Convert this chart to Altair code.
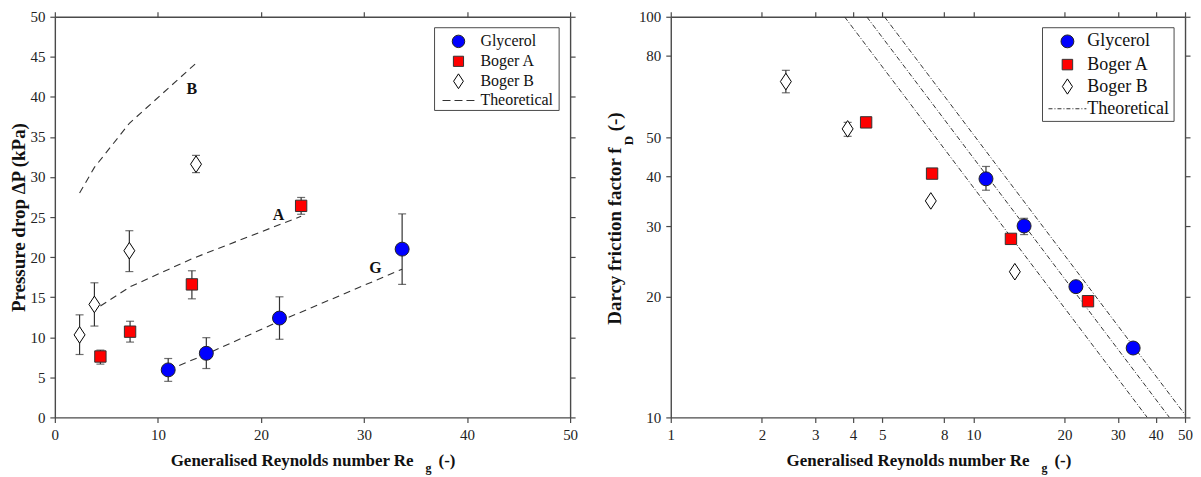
import altair as alt
import pandas as pd

# ---------------- data ----------------
# Generalised Reynolds number Re_g of each series
re_glycerol = [11.0, 14.7, 21.8, 33.7]
re_boger_a = [4.42, 7.3, 13.3, 23.9]
re_boger_b = [2.4, 3.84, 7.23, 13.7]

# Pressure drop (kPa) with error-bar limits
dp_glycerol = [5.93, 8.0, 12.4, 21.0]
dp_glycerol_lo = [4.5, 6.1, 9.75, 16.6]
dp_glycerol_hi = [7.35, 9.95, 15.05, 25.4]
dp_boger_a = [7.6, 10.7, 16.6, 26.4]
dp_boger_a_lo = [6.65, 9.4, 14.8, 25.35]
dp_boger_a_hi = [8.4, 12.0, 18.3, 27.45]
dp_boger_b = [10.3, 14.1, 20.8, 31.6]
dp_boger_b_lo = [7.85, 11.4, 18.2, 30.55]
dp_boger_b_hi = [12.8, 16.8, 23.3, 32.7]

# Theoretical pressure-drop curves (at each series' Re_g)
dp_theory_g = [5.9, 7.9, 12.0, 18.5]
dp_theory_a = [13.9, 16.3, 19.8, 25.1]
dp_theory_b = [28.0, 31.2, 36.7, 44.2]

# Curve labels
curve_label_text = ["B", "A", "G"]
curve_label_re = [13.3, 21.7, 31.1]
curve_label_dp = [41.0, 25.3, 18.6]

# Darcy friction factor f_D
f_glycerol = [39.4, 30.05, 21.2, 14.9]
f_boger_a = [54.5, 40.6, 27.9, 19.5]
f_boger_b = [68.9, 52.5, 34.7, 23.1]
f_err_re_glycerol = [11.0, 14.7]
f_glycerol_lo = [36.9, 28.6]
f_glycerol_hi = [42.3, 31.4]
f_err_re_boger_b = [2.4, 3.84]
f_boger_b_lo = [64.6, 50.3]
f_boger_b_hi = [73.5, 54.5]

# Theoretical friction-factor lines (start and end points)
f_theory_line = ["T1", "T2", "T3"]
f_theory_re_start = [3.75, 4.44, 5.08]
f_theory_f_start = [100.0, 100.0, 100.0]
f_theory_re_end = [37.5, 44.4, 50.0]
f_theory_f_end = [10.0, 10.0, 10.16]

legend_labels = ["Glycerol", "Boger A", "Boger B", "Theoretical"]

x_ticks_lin = [0, 10, 20, 30, 40, 50]
y_ticks_lin = [0, 5, 10, 15, 20, 25, 30, 35, 40, 45, 50]
x_ticks_log = [1, 2, 3, 4, 5, 8, 10, 20, 30, 40, 50]
y_ticks_log = [10, 20, 30, 40, 50, 80, 100]

# ---------------- styling / layout ----------------
FONT = "Liberation Serif"
AXC = "#4a4a4a"
INK = "#333333"
W_L, W_R, H = 517, 516, 402

SYM = {
    "Glycerol": dict(shape="circle", size=196, fill="#0000ff", stroke="#222222"),
    "Boger A": dict(shape="square", size=130, fill="#ff0000", stroke="#333333"),
    "Boger B": dict(shape="M0,-1L0.66,0L0,1L-0.66,0Z", size=276, fill="#ffffff", stroke="#000000"),
}

one = pd.DataFrame({"k": [0]})


def axes(xticks, yticks, fmt, ytitle=None):
    base = dict(grid=False, tickSize=5, tickWidth=1.2, tickColor=AXC, domainColor=AXC,
                domainWidth=1.4, labelFont=FONT, labelFontSize=15, labelColor="#222222",
                labelPadding=5, labelFlush=False, labelOverlap=False, format=fmt)
    xb = alt.Axis(orient="bottom", values=xticks, title=None, **base)
    xt = alt.Axis(orient="top", values=xticks, title=None, labels=False, **base)
    if ytitle:
        yl = alt.Axis(orient="left", values=yticks, title=ytitle, titleFont=FONT,
                      titleFontSize=19, titleFontWeight="bold", titleColor="#111111",
                      titlePadding=1, **base)
    else:
        yl = alt.Axis(orient="left", values=yticks, title=None, **base)
    yr = alt.Axis(orient="right", values=yticks, title=None, labels=False, **base)
    return xb, xt, yl, yr


def points(re, v, name, xsc, ysc, xax=None, yax=None):
    s = SYM[name]
    return alt.Chart(pd.DataFrame({"re": re, "v": v})).mark_point(
        shape=s["shape"], size=s["size"], fill=s["fill"], stroke=s["stroke"],
        strokeWidth=1, opacity=1, filled=True
    ).encode(x=alt.X("re:Q", scale=xsc, axis=xax), y=alt.Y("v:Q", scale=ysc, axis=yax))


def error_bars(re, lo, hi, xsc, ysc):
    rules = alt.Chart(pd.DataFrame({"re": re, "lo": lo, "hi": hi})).mark_rule(
        color=INK, strokeWidth=1.2
    ).encode(x=alt.X("re:Q", scale=xsc, axis=None), y=alt.Y("lo:Q", scale=ysc, axis=None), y2="hi:Q")
    caps = alt.Chart(pd.DataFrame({"re": list(re) + list(re), "v": list(lo) + list(hi)})).mark_tick(
        orient="horizontal", size=8, thickness=1.2, color=INK
    ).encode(x=alt.X("re:Q", scale=xsc, axis=None), y=alt.Y("v:Q", scale=ysc, axis=None))
    return [rules, caps]


def legend(box, ys, sym_x, text_x, line_x, fsize, dash, sym_scale):
    layers = [alt.Chart(one).mark_rect(fill="white", stroke=AXC, strokeWidth=1).encode(
        x=alt.value(box[0]), x2=alt.value(box[1]), y=alt.value(box[2]), y2=alt.value(box[3]))]
    for name, yy in zip(legend_labels[:3], ys[:3]):
        s = SYM[name]
        layers.append(alt.Chart(one).mark_point(
            shape=s["shape"], size=s["size"] * sym_scale, fill=s["fill"], stroke=s["stroke"],
            strokeWidth=1, opacity=1, filled=True).encode(x=alt.value(sym_x), y=alt.value(yy)))
    layers.append(alt.Chart(one).mark_rule(color=INK, strokeWidth=1.1, strokeDash=dash).encode(
        x=alt.value(line_x[0]), x2=alt.value(line_x[1]), y=alt.value(ys[3])))
    for name, yy in zip(legend_labels, ys):
        layers.append(alt.Chart(one).mark_text(
            text=name, align="left", baseline="middle", font=FONT, fontSize=fsize,
            color="#111111").encode(x=alt.value(text_x), y=alt.value(yy)))
    return layers


def x_title():
    main = alt.Chart(one).mark_text(text="Generalised Reynolds number Re", align="right",
                                    baseline="alphabetic", font=FONT, fontSize=17,
                                    fontWeight="bold", color="#111111").encode(
        x=alt.value(360), y=alt.value(H + 49))
    sub = alt.Chart(one).mark_text(text="g", align="left", baseline="alphabetic", font=FONT,
                                   fontSize=12, fontWeight="bold", color="#111111").encode(
        x=alt.value(372), y=alt.value(H + 55))
    tail = alt.Chart(one).mark_text(text="(-)", align="left", baseline="alphabetic", font=FONT,
                                    fontSize=17, fontWeight="bold", color="#111111").encode(
        x=alt.value(385), y=alt.value(H + 49))
    return [main, sub, tail]


# ---------------- left panel: pressure drop ----------------
xsL = alt.Scale(domain=[0, 50], nice=False, zero=False)
ysL = alt.Scale(domain=[0, 50], nice=False, zero=False)
xbL, xtL, ylL, yrL = axes(x_ticks_lin, y_ticks_lin, "d", "Pressure drop \u0394P (kPa)")

theory_df = pd.DataFrame({
    "re": re_glycerol + re_boger_a + re_boger_b,
    "v": dp_theory_g + dp_theory_a + dp_theory_b,
    "curve": ["G"] * 4 + ["A"] * 4 + ["B"] * 4,
})
theory_L = alt.Chart(theory_df).mark_line(color=INK, strokeWidth=1.1, strokeDash=[7, 5]).encode(
    x=alt.X("re:Q", scale=xsL, axis=None), y=alt.Y("v:Q", scale=ysL, axis=None), detail="curve:N")

labels_L = alt.Chart(pd.DataFrame({"re": curve_label_re, "v": curve_label_dp, "t": curve_label_text})).mark_text(
    font=FONT, fontSize=16, fontWeight="bold", color="#111111"
).encode(x=alt.X("re:Q", scale=xsL, axis=None), y=alt.Y("v:Q", scale=ysL, axis=None), text="t:N")

left_layers = [theory_L]
left_layers += error_bars(re_glycerol, dp_glycerol_lo, dp_glycerol_hi, xsL, ysL)
left_layers += error_bars(re_boger_a, dp_boger_a_lo, dp_boger_a_hi, xsL, ysL)
left_layers += error_bars(re_boger_b, dp_boger_b_lo, dp_boger_b_hi, xsL, ysL)
left_layers += [
    points(re_glycerol, dp_glycerol, "Glycerol", xsL, ysL, xbL, ylL),
    points(re_boger_a, dp_boger_a, "Boger A", xsL, ysL, xtL, yrL),
    points(re_boger_b, dp_boger_b, "Boger B", xsL, ysL),
    labels_L,
]
left_layers += legend([381, 506, 11, 94], [24.7, 44.7, 64.7, 84], 405, 427, [389, 425], 16,
                      [8, 4], 0.8)
left_layers += x_title()

left = alt.layer(*left_layers).resolve_axis(x="independent", y="independent").properties(
    width=W_L, height=H)

# ---------------- right panel: friction factor ----------------
xsR = alt.Scale(type="log", domain=[1, 50], nice=False)
ysR = alt.Scale(type="log", domain=[10, 100], nice=False)
xbR, xtR, ylR, yrR = axes(x_ticks_log, y_ticks_log, "d")

ftheory_df = pd.DataFrame({
    "re": f_theory_re_start + f_theory_re_end,
    "v": f_theory_f_start + f_theory_f_end,
    "line": f_theory_line + f_theory_line,
})
theory_R = alt.Chart(ftheory_df).mark_line(color=INK, strokeWidth=1, strokeDash=[5, 2, 1, 2],
                                           clip=True).encode(
    x=alt.X("re:Q", scale=xsR, axis=None), y=alt.Y("v:Q", scale=ysR, axis=None), detail="line:N")

right_layers = [theory_R]
right_layers += error_bars(f_err_re_glycerol, f_glycerol_lo, f_glycerol_hi, xsR, ysR)
right_layers += error_bars(f_err_re_boger_b, f_boger_b_lo, f_boger_b_hi, xsR, ysR)
right_layers += [
    points(re_glycerol, f_glycerol, "Glycerol", xsR, ysR, xbR, ylR),
    points(re_boger_a, f_boger_a, "Boger A", xsR, ysR, xtR, yrR),
    points(re_boger_b, f_boger_b, "Boger B", xsR, ysR),
]
right_layers += legend([373, 505, 11, 105], [24.7, 48, 70, 92.3], 398, 418, [379, 417], 18,
                       [4, 2, 1, 2], 0.85)
right_layers += x_title()
right_layers += [
    alt.Chart(one).mark_text(text="Darcy friction factor f", angle=270, align="right",
                             baseline="alphabetic", font=FONT, fontSize=19, fontWeight="bold",
                             color="#111111").encode(x=alt.value(-50), y=alt.value(131)),
    alt.Chart(one).mark_text(text="D", angle=270, align="left", baseline="alphabetic", font=FONT,
                             fontSize=13, fontWeight="bold", color="#111111").encode(
        x=alt.value(-38), y=alt.value(129)),
    alt.Chart(one).mark_text(text="(-)", angle=270, align="left", baseline="alphabetic", font=FONT,
                             fontSize=19, fontWeight="bold", color="#111111").encode(
        x=alt.value(-50), y=alt.value(115)),
]

right = alt.layer(*right_layers).resolve_axis(x="independent", y="independent").properties(
    width=W_R, height=H)

chart = alt.hconcat(left, right, spacing=28).properties(
    padding={"left": 2, "top": 1, "right": 0, "bottom": 0}
).configure_view(stroke=None)

chart.save("out.html", embed_options={"renderer": "svg", "actions": False})
